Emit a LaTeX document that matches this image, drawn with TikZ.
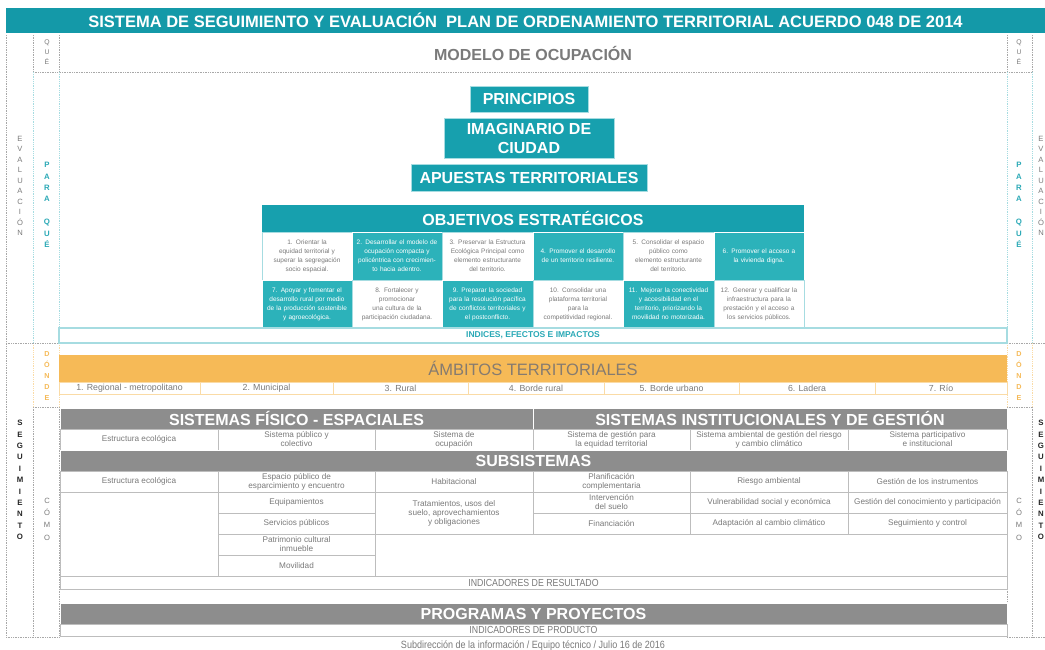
\documentclass[tikz,border=0pt]{standalone}
\usepackage{fontspec}
\setmainfont{Liberation Sans}
\newfontfamily\narrowfont[FakeStretch=0.86]{Liberation Sans}
\definecolor{tealA}{HTML}{1499A8}
\definecolor{tealB}{HTML}{17A0AE}
\definecolor{tealC}{HTML}{2CB2BA}
\definecolor{tealL}{HTML}{A6DCE1}
\definecolor{tealD}{HTML}{2AA9B6}
\definecolor{orangeA}{HTML}{F6BA57}
\definecolor{orangeL}{HTML}{FADBA6}
\definecolor{grayH}{HTML}{8D8D8D}
\definecolor{grayT}{HTML}{7A7A7A}
\definecolor{grayL}{HTML}{BDBDBD}
\definecolor{grayD}{HTML}{A8A8A8}
\definecolor{ambT}{HTML}{857B70}
\newcommand{\bx}[7]{\node[#1,anchor=north west,minimum width={(#4)-(#2)},minimum height={(#5)-(#3)}] (#6) at (#2,#3) {#7};}
\begin{document}
\begin{tikzpicture}[x=1pt,y=-1pt,
  base/.style={inner sep=0,outer sep=0,align=center},
  pyr/.style={base,fill=tealB,draw=tealL,line width=0.8,text=white,font=\bfseries\fontsize{16}{19}\selectfont},
  objhead/.style={base,fill=tealB,text=white,font=\bfseries\fontsize{16}{19}\selectfont},
  objT/.style={base,fill=tealC,draw=white,line width=0.8,text=white,text width=88,font=\fontsize{6.5}{8.9}\selectfont},
  objW/.style={base,fill=white,draw=tealL,line width=0.6,text=grayT,text width=88,font=\fontsize{6.5}{8.9}\selectfont},
  ghead/.style={base,fill=grayH,draw=white,line width=0.8,text=white,font=\bfseries\fontsize{16}{19}\selectfont},
  tcell/.style={base,fill=white,draw=grayL,line width=0.7,text=grayT,font=\fontsize{8.2}{9}\selectfont},
  amb/.style={base,fill=white,draw=orangeL,line width=0.7,text=grayT,font=\fontsize{8.8}{10}\selectfont},
  vl/.style={base},
  dotg/.style={densely dotted,draw=grayD,line width=0.7},
  dott/.style={densely dotted,draw=tealL,line width=0.8},
  doto/.style={densely dotted,draw=orangeL,line width=0.8}]
\useasboundingbox (0,0) rectangle (1045,650);
\fill[white] (0,0) rectangle (1045,650);

% ---------- title
\bx{base,fill=tealA,text=white,font=\bfseries\fontsize{16.5}{18}\selectfont}{6}{8}{1045}{33}{title}{SISTEMA DE SEGUIMIENTO Y EVALUACIÓN\ \ PLAN DE ORDENAMIENTO TERRITORIAL ACUERDO 048 DE 2014}

% ---------- frame lines
\draw[dotg] (6,35) -- (6,637);
\draw[dotg] (33,35) -- (33,72);
\draw[dotg] (59,35) -- (59,72);
\draw[dotg] (1007,35) -- (1007,72);
\draw[dotg] (1032,35) -- (1032,72);
\draw[dotg] (33,72) -- (1032,72);
\draw[dott] (33,72) -- (33,343);
\draw[dott] (59,72) -- (59,343);
\draw[dott] (1007,72) -- (1007,343);
\draw[dott] (1032,72) -- (1032,343);
\draw[doto] (33,343) -- (33,407);
\draw[doto] (59,343) -- (59,407);
\draw[doto] (1007,343) -- (1007,407);
\draw[doto] (1032,343) -- (1032,407);
\draw[dotg] (33,407) -- (33,637);
\draw[dotg] (59,407) -- (59,637);
\draw[dotg] (1007,407) -- (1007,637);
\draw[dotg] (1032,407) -- (1032,637);
\draw[dotg] (6,343) -- (59,343);
\draw[dotg] (1007,343) -- (1045,343);
\draw[dotg] (33,407) -- (59,407);
\draw[dotg] (1007,407) -- (1032,407);
\draw[dotg] (6,637) -- (59,637);
\draw[dotg] (1007,637) -- (1045,637);

% ---------- side labels
\node[vl,text=grayT,font=\fontsize{6.8}{10}\selectfont] (queL) at (47,52) {Q\\U\\É};
\node[vl,text=grayT,font=\fontsize{6.8}{10}\selectfont] (queR) at (1019,52) {Q\\U\\É};
\node[vl,text=grayT,font=\fontsize{7.6}{10.5}\selectfont] (evalL) at (20,186) {E\\V\\A\\L\\U\\A\\C\\I\\Ó\\N};
\node[vl,text=grayT,font=\fontsize{7.6}{10.5}\selectfont] (evalR) at (1041,186) {E\\V\\A\\L\\U\\A\\C\\I\\Ó\\N};
\node[vl,text=tealD,font=\bfseries\fontsize{7.8}{11.4}\selectfont] (paraL) at (47,205) {P\\A\\R\\A\\[11.4pt]Q\\U\\É};
\node[vl,text=tealD,font=\bfseries\fontsize{7.8}{11.4}\selectfont] (paraR) at (1019,205) {P\\A\\R\\A\\[11.4pt]Q\\U\\É};
\node[vl,text=orangeA,font=\bfseries\fontsize{7.2}{11.2}\selectfont] (dondeL) at (47,376) {D\\Ó\\N\\D\\E};
\node[vl,text=orangeA,font=\bfseries\fontsize{7.2}{11.2}\selectfont] (dondeR) at (1019,376) {D\\Ó\\N\\D\\E};
\node[vl,text=black!85,font=\bfseries\fontsize{7.8}{11.4}\selectfont] (segL) at (20,480) {S\\E\\G\\U\\I\\M\\I\\E\\N\\T\\O};
\node[vl,text=black!85,font=\bfseries\fontsize{7.8}{11.4}\selectfont] (segR) at (1041,480) {S\\E\\G\\U\\I\\M\\I\\E\\N\\T\\O};
\node[vl,text=grayT,font=\fontsize{7.6}{12.3}\selectfont] (comoL) at (47,519) {C\\Ó\\M\\O};
\node[vl,text=grayT,font=\fontsize{7.6}{12.3}\selectfont] (comoR) at (1019,519) {C\\Ó\\M\\O};

% ---------- QUE
\node[base,text=grayT,font=\bfseries\fontsize{16}{18}\selectfont] (modelo) at (533,53) {MODELO DE OCUPACIÓN};

% ---------- PARA QUE pyramid
\bx{pyr}{470}{86}{588}{112}{principios}{PRINCIPIOS}
\bx{pyr}{444}{118}{614}{158}{imaginario}{IMAGINARIO DE\\CIUDAD}
\bx{pyr}{411}{164}{647}{191}{apuestas}{APUESTAS TERRITORIALES}
\bx{objhead}{262}{205}{804}{232}{objetivos}{OBJETIVOS ESTRATÉGICOS}

\bx{objW}{262}{232}{352}{280}{o1}{1. Orientar la\\equidad territorial y\\superar la segregación\\socio espacial.}
\bx{objT}{352}{232}{442}{280}{o2}{2. Desarrollar el modelo de\\ocupación compacta y\\policéntrica con crecimien-\\to hacia adentro.}
\bx{objW}{442}{232}{533}{280}{o3}{3. Preservar la Estructura\\Ecológica Principal como\\elemento estructurante\\del territorio.}
\bx{objT}{533}{232}{623}{280}{o4}{4. Promover el desarrollo\\de un territorio resiliente.}
\bx{objW}{623}{232}{714}{280}{o5}{5. Consolidar el espacio\\público como\\elemento estructurante\\del territorio.}
\bx{objT}{714}{232}{804}{280}{o6}{6. Promover el acceso a\\la vivienda digna.}
\bx{objT}{262}{280}{352}{328}{o7}{7. Apoyar y fomentar el\\desarrollo rural por medio\\de la producción sostenible\\y agroecológica.}
\bx{objW}{352}{280}{442}{328}{o8}{8. Fortalecer y\\promocionar\\una cultura de la\\participación ciudadana.}
\bx{objT}{442}{280}{533}{328}{o9}{9. Preparar la sociedad\\para la resolución pacífica\\de conflictos territoriales y\\el postconflicto.}
\bx{objW}{533}{280}{623}{328}{o10}{10. Consolidar una\\plataforma territorial\\para la\\competitividad regional.}
\bx{objT}{623}{280}{714}{328}{o11}{11. Mejorar la conectividad\\y accesibilidad en el\\territorio, priorizando la\\movilidad no motorizada.}
\bx{objW}{714}{280}{804}{328}{o12}{12. Generar y cualificar la\\infraestructura para la\\prestación y el acceso a\\los servicios públicos.}

\bx{base,draw=tealL,line width=1.2,text=tealD,font=\bfseries\fontsize{8.5}{9}\selectfont}{59}{328}{1007}{343}{indices}{INDICES, EFECTOS E IMPACTOS}

% ---------- DONDE
\bx{base,fill=orangeA,text=ambT,font=\fontsize{16.5}{18}\selectfont}{59}{355}{1007}{382}{ambitos}{ÁMBITOS TERRITORIALES}
\bx{amb}{59}{382}{200}{394}{a1}{1. Regional - metropolitano}
\bx{amb}{200}{382}{333}{394}{a2}{2. Municipal}
\bx{amb}{333}{382}{468}{394}{a3}{3. Rural}
\bx{amb}{468}{382}{604}{394}{a4}{4. Borde rural}
\bx{amb}{604}{382}{739}{394}{a5}{5. Borde urbano}
\bx{amb}{739}{382}{875}{394}{a6}{6. Ladera}
\bx{amb}{875}{382}{1007}{394}{a7}{7. Río}

% ---------- COMO
\bx{ghead}{60}{408}{533}{429}{fisico}{SISTEMAS FÍSICO - ESPACIALES}
\bx{ghead}{533}{408}{1007}{429}{institucionales}{SISTEMAS INSTITUCIONALES Y DE GESTIÓN}
\bx{tcell}{60}{429}{218}{450}{s1}{Estructura ecológica}
\bx{tcell}{218}{429}{375}{450}{s2}{Sistema público y\\colectivo}
\bx{tcell}{375}{429}{533}{450}{s3}{Sistema de\\ocupación}
\bx{tcell}{533}{429}{690}{450}{s4}{Sistema de gestión para\\la equidad territorial}
\bx{tcell}{690}{429}{848}{450}{s5}{Sistema ambiental de gestión del riesgo\\y cambio climático}
\bx{tcell}{848}{429}{1007}{450}{s6}{Sistema participativo\\e institucional}
\bx{ghead}{60}{450}{1007}{471}{subsistemas}{SUBSISTEMAS}

\bx{tcell}{60}{471}{218}{492}{c1a}{Estructura ecológica}
\bx{tcell}{60}{492}{218}{576}{c1b}{}
\bx{tcell}{218}{471}{375}{492}{c2a}{Espacio público de\\esparcimiento y encuentro}
\bx{tcell}{218}{492}{375}{513}{c2b}{Equipamientos}
\bx{tcell}{218}{513}{375}{534}{c2c}{Servicios públicos}
\bx{tcell}{218}{534}{375}{555}{c2d}{Patrimonio cultural\\inmueble}
\bx{tcell}{218}{555}{375}{576}{c2e}{Movilidad}
\bx{tcell}{375}{471}{533}{492}{c3a}{Habitacional}
\bx{tcell}{375}{492}{533}{534}{c3b}{Tratamientos, usos del\\suelo, aprovechamientos\\y obligaciones}
\bx{tcell}{533}{471}{690}{492}{c4a}{Planificación\\complementaria}
\bx{tcell}{533}{492}{690}{513}{c4b}{Intervención\\del suelo}
\bx{tcell}{533}{513}{690}{534}{c4c}{Financiación}
\bx{tcell}{690}{471}{848}{492}{c5a}{Riesgo ambiental}
\bx{tcell}{690}{492}{848}{513}{c5b}{Vulnerabilidad social y económica}
\bx{tcell}{690}{513}{848}{534}{c5c}{Adaptación al cambio climático}
\bx{tcell}{848}{471}{1007}{492}{c6a}{Gestión de los instrumentos}
\bx{tcell}{848}{492}{1007}{513}{c6b}{Gestión del conocimiento y participación}
\bx{tcell}{848}{513}{1007}{534}{c6c}{Seguimiento y control}
\bx{tcell}{375}{534}{1007}{576}{cempty}{}

\bx{tcell,font=\narrowfont\fontsize{10.2}{11}\selectfont}{60}{576}{1007}{589}{resultado}{INDICADORES DE RESULTADO}
\bx{ghead}{60}{603}{1007}{624}{programas}{PROGRAMAS Y PROYECTOS}
\bx{tcell,font=\narrowfont\fontsize{10.2}{11}\selectfont}{60}{624}{1007}{636}{producto}{INDICADORES DE PRODUCTO}

\node[base,text=grayT,font=\narrowfont\fontsize{10.5}{11}\selectfont] (footer) at (533,646) {Subdirección de la información / Equipo técnico / Julio 16 de 2016};
\end{tikzpicture}
\end{document}
